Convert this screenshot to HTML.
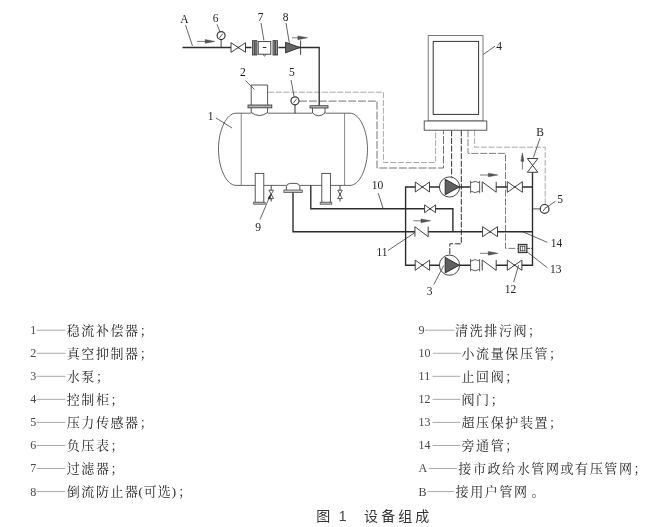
<!DOCTYPE html>
<html lang="zh"><head><meta charset="utf-8"><title>图1 设备组成</title><style>html,body{margin:0;padding:0;background:#fff;}body{width:671px;height:527px;position:relative;overflow:hidden;font-family:"Liberation Serif",serif;}</style></head><body>
<svg width="671" height="527" viewBox="0 0 671 527" font-family="Liberation Serif, serif" style="position:absolute;left:0;top:0;display:block;will-change:transform">
<path d="M268.00 92.20 L383.40 92.20 L383.40 162.50 L435.60 162.50 L435.60 130.40" stroke="#9a9a9a" stroke-width="0.85" fill="none" stroke-dasharray="6 1.7"/>
<path d="M299.20 101.10 L377.00 101.10 L377.00 168.00 L443.50 168.00 L443.50 130.40" stroke="#5a5a5a" stroke-width="0.85" fill="none" stroke-dasharray="8 1.8"/>
<path d="M451.60 130.40 L451.60 176.80" stroke="#333" stroke-width="1" fill="none" stroke-dasharray="6 1.6"/>
<path d="M461.30 130.40 L461.30 243.80 L449.80 243.80 L449.80 255.00" stroke="#333" stroke-width="1" fill="none" stroke-dasharray="6 1.6"/>
<path d="M468.00 130.40 L468.00 153.40 L505.50 153.40 L505.50 248.40 L518.00 248.40" stroke="#6a6a6a" stroke-width="0.85" fill="none" stroke-dasharray="7 1.8"/>
<path d="M474.60 130.40 L474.60 147.20 L545.20 147.20 L545.20 204.40" stroke="#9a9a9a" stroke-width="0.85" fill="none" stroke-dasharray="6 1.7"/>
<path d="M182.50 47.50 L319.20 47.50 L319.20 105.70" stroke="#2c2c2c" stroke-width="1.3" fill="none" stroke-linejoin="miter"/>
<text x="184.30" y="22.60" font-size="11.5" text-anchor="middle" font-weight="normal" fill="#222">A</text>
<line x1="185.50" y1="25.00" x2="192.50" y2="46.00" stroke="#333" stroke-width="0.75" fill="none"/>
<text x="215.50" y="21.60" font-size="11.5" text-anchor="middle" font-weight="normal" fill="#222">6</text>
<line x1="217.00" y1="24.50" x2="220.00" y2="32.00" stroke="#333" stroke-width="0.75" fill="none"/>
<text x="260.50" y="20.50" font-size="11.5" text-anchor="middle" font-weight="normal" fill="#222">7</text>
<line x1="261.00" y1="23.00" x2="264.00" y2="41.00" stroke="#333" stroke-width="0.75" fill="none"/>
<text x="285.50" y="20.50" font-size="11.5" text-anchor="middle" font-weight="normal" fill="#222">8</text>
<line x1="286.00" y1="23.00" x2="289.50" y2="44.00" stroke="#333" stroke-width="0.75" fill="none"/>
<line x1="197.20" y1="41.40" x2="206.20" y2="41.40" stroke="#444" stroke-width="0.7"/>
<path d="M205.20 39.55 L214.80 41.40 L205.20 43.25 Z" fill="#555" stroke="#333" stroke-width="0.4"/>
<line x1="292.00" y1="37.80" x2="298.90" y2="37.80" stroke="#444" stroke-width="0.7"/>
<path d="M297.90 35.95 L307.50 37.80 L297.90 39.65 Z" fill="#555" stroke="#333" stroke-width="0.4"/>
<line x1="221.10" y1="47.50" x2="221.10" y2="39.50" stroke="#333" stroke-width="0.9"/>
<circle cx="221.10" cy="35.60" r="4.00" stroke="#333" stroke-width="1.15" fill="#fff"/>
<line x1="219.50" y1="37.80" x2="222.90" y2="33.60" stroke="#444" stroke-width="0.9"/>
<path d="M231.00 42.70 L245.50 52.30 L245.50 42.70 L231.00 52.30 Z" stroke="#2e2e2e" stroke-width="0.9" fill="#fff" stroke-linejoin="miter"/>
<rect x="251.5" y="40.4" width="27" height="15" fill="#fff"/>
<rect x="252.40" y="40.60" width="1.90" height="14.40" stroke="#333" stroke-width="0.8" fill="#999"/>
<rect x="255.00" y="40.60" width="1.90" height="14.40" stroke="#333" stroke-width="0.8" fill="#999"/>
<rect x="273.00" y="40.60" width="1.90" height="14.40" stroke="#333" stroke-width="0.8" fill="#999"/>
<rect x="275.60" y="40.60" width="1.90" height="14.40" stroke="#333" stroke-width="0.8" fill="#999"/>
<rect x="258.20" y="41.60" width="12.60" height="12.60" stroke="#333" stroke-width="0.9" fill="#fff"/>
<line x1="262.80" y1="47.50" x2="266.40" y2="47.50" stroke="#333" stroke-width="1"/>
<path d="M263 54.2 Q264.5 57.9 266 54.2" stroke="#444" stroke-width="0.8" fill="none"/>
<path d="M285.6 42.3 L300 47.5 L285.6 52.8 Z" fill="#666" stroke="#2a2a2a" stroke-width="0.9"/>
<line x1="300.60" y1="40.40" x2="300.60" y2="54.80" stroke="#333" stroke-width="0.9"/>
<path d="M236 113.2 L350 113.2 C359.5 113.2 367.5 130 367.5 149.2 C367.5 168.4 359.5 185.4 350 185.4 L236 185.4 C226.5 185.4 218.5 168.4 218.5 149.2 C218.5 130 226.5 113.2 236 113.2 Z" stroke="#4a4a4a" stroke-width="0.85" fill="none"/>
<line x1="241.20" y1="113.20" x2="241.20" y2="185.40" stroke="#6a6a6a" stroke-width="0.8"/>
<line x1="344.60" y1="113.20" x2="344.60" y2="185.40" stroke="#6a6a6a" stroke-width="0.8"/>
<text x="210.50" y="119.50" font-size="11.5" text-anchor="middle" font-weight="normal" fill="#222">1</text>
<line x1="216.00" y1="118.00" x2="232.00" y2="128.00" stroke="#333" stroke-width="0.75" fill="none"/>
<rect x="250.6" y="84" width="17.6" height="31" fill="#fff"/>
<path d="M251.2 113.2 L251.2 85 L267.6 85 L267.6 113.2" stroke="#444" stroke-width="0.9" fill="none"/>
<path d="M251.2 112.5 Q259.4 118.5 267.6 112.5" stroke="#444" stroke-width="0.9" fill="none"/>
<rect x="248.00" y="105.00" width="23.80" height="2.80" stroke="#444" stroke-width="0.9" fill="#b0b0b0"/>
<text x="242.80" y="76.00" font-size="11.5" text-anchor="middle" font-weight="normal" fill="#111">2</text>
<line x1="245.50" y1="80.50" x2="254.50" y2="89.50" stroke="#333" stroke-width="0.75" fill="none"/>
<line x1="295.00" y1="113.20" x2="295.00" y2="105.00" stroke="#333" stroke-width="1"/>
<circle cx="295.00" cy="100.80" r="4.00" stroke="#333" stroke-width="1.15" fill="#fff"/>
<line x1="293.40" y1="103.00" x2="296.80" y2="98.80" stroke="#444" stroke-width="0.9"/>
<text x="291.80" y="75.80" font-size="11.5" text-anchor="middle" font-weight="normal" fill="#222">5</text>
<line x1="291.00" y1="80.00" x2="294.00" y2="96.00" stroke="#333" stroke-width="0.75" fill="none"/>
<rect x="312" y="107" width="13.5" height="8" fill="#fff"/>
<path d="M312.5 107.5 L312.5 113 Q318.8 118.5 325 113 L325 107.5" stroke="#444" stroke-width="0.9" fill="none"/>
<rect x="310.00" y="105.70" width="18.00" height="2.30" stroke="#444" stroke-width="0.9" fill="#bbb"/>
<rect x="255.20" y="173.4" width="8.60" height="29" fill="#fff" stroke="#444" stroke-width="0.9"/>
<rect x="253.60" y="202.20" width="11.60" height="2.00" stroke="#555" stroke-width="0.8" fill="#c4c4c4"/>
<rect x="321.80" y="173.4" width="8.60" height="29" fill="#fff" stroke="#444" stroke-width="0.9"/>
<rect x="320.20" y="202.20" width="11.60" height="2.00" stroke="#555" stroke-width="0.8" fill="#c4c4c4"/>
<line x1="271.20" y1="185.40" x2="271.20" y2="201.50" stroke="#333" stroke-width="0.9"/>
<path d="M268.90 190.20 L273.50 190.20 L268.90 198.60 L273.50 198.60 Z" stroke="#333" stroke-width="0.8" fill="#fff"/>
<line x1="340.00" y1="185.40" x2="340.00" y2="201.50" stroke="#333" stroke-width="0.9"/>
<path d="M337.70 190.20 L342.30 190.20 L337.70 198.60 L342.30 198.60 Z" stroke="#333" stroke-width="0.8" fill="#fff"/>
<rect x="286.4" y="182" width="13.6" height="8.5" fill="#fff"/>
<path d="M286.4 190 L286.4 186.4 Q286.8 183.6 290.2 183.4 L296 183.4 Q299.4 183.6 299.8 186.4 L299.8 190" stroke="#444" stroke-width="0.9" fill="none"/>
<rect x="283.90" y="190.00" width="18.40" height="2.50" stroke="#555" stroke-width="0.8" fill="#c4c4c4"/>
<text x="258.00" y="230.60" font-size="11.5" text-anchor="middle" font-weight="normal" fill="#222">9</text>
<line x1="260.00" y1="219.50" x2="270.20" y2="195.50" stroke="#333" stroke-width="0.75" fill="none"/>
<path d="M270.9 193.6 L267.6 198.4 L270.6 199.6 Z" fill="#333"/>
<path d="M293.00 192.60 L293.00 231.70 L532.50 231.70" stroke="#2c2c2c" stroke-width="1.38" fill="none" stroke-linejoin="miter"/>
<path d="M310.80 185.40 L310.80 208.80 L452.90 208.80 L452.90 231.70" stroke="#2c2c2c" stroke-width="1.38" fill="none" stroke-linejoin="miter"/>
<path d="M532.50 172.30 L532.50 265.20 L405.60 265.20 L405.60 187.00 L532.50 187.00" stroke="#2c2c2c" stroke-width="1.38" fill="none" stroke-linejoin="miter"/>
<path d="M415.30 182.00 L429.50 192.00 L429.50 182.00 L415.30 192.00 Z" stroke="#2e2e2e" stroke-width="0.9" fill="#fff" stroke-linejoin="miter"/>
<circle cx="449.50" cy="187.00" r="10.10" stroke="#333" stroke-width="0.9" fill="#fff"/>
<path d="M445.20 179.20 L459.20 187.00 L445.20 194.80 Z" fill="#606060" stroke="#222" stroke-width="0.9" stroke-linejoin="miter"/>
<rect x="470.60" y="180.80" width="11.20" height="12.40" fill="#fff" stroke="none"/>
<line x1="470.60" y1="180.80" x2="470.60" y2="193.20" stroke="#444" stroke-width="0.85" fill="none"/>
<line x1="479.60" y1="180.80" x2="479.60" y2="193.20" stroke="#444" stroke-width="0.85" fill="none"/>
<path d="M470.90 182.80 Q475.10 180.00 479.30 182.80" stroke="#444" stroke-width="0.85" fill="none"/>
<path d="M470.90 191.20 Q475.10 194.00 479.30 191.20" stroke="#444" stroke-width="0.85" fill="none"/>
<rect x="482.20" y="181.80" width="14.00" height="10.40" fill="#fff" stroke="none"/>
<path d="M482.20 192.20 L482.20 181.80 L496.20 192.20 L496.20 181.80" stroke="#2e2e2e" stroke-width="0.9" fill="none" stroke-linejoin="miter"/>
<path d="M507.30 181.70 L522.40 192.30 L522.40 181.70 L507.30 192.30 Z" stroke="#2e2e2e" stroke-width="0.9" fill="#fff" stroke-linejoin="miter"/>
<line x1="480.00" y1="175.00" x2="489.30" y2="175.00" stroke="#444" stroke-width="0.7"/>
<path d="M488.30 173.15 L497.90 175.00 L488.30 176.85 Z" fill="#555" stroke="#333" stroke-width="0.4"/>
<path d="M424.60 204.90 L435.60 212.70 L435.60 204.90 L424.60 212.70 Z" stroke="#2e2e2e" stroke-width="0.9" fill="#fff" stroke-linejoin="miter"/>
<rect x="414.90" y="226.70" width="13.30" height="10.00" fill="#fff" stroke="none"/>
<path d="M414.90 236.70 L414.90 226.70 L428.20 236.70 L428.20 226.70" stroke="#2e2e2e" stroke-width="0.9" fill="none" stroke-linejoin="miter"/>
<line x1="413.40" y1="220.80" x2="422.00" y2="220.80" stroke="#444" stroke-width="0.7"/>
<path d="M421.00 218.95 L430.60 220.80 L421.00 222.65 Z" fill="#555" stroke="#333" stroke-width="0.4"/>
<path d="M482.60 226.70 L497.50 236.70 L497.50 226.70 L482.60 236.70 Z" stroke="#2e2e2e" stroke-width="0.9" fill="#fff" stroke-linejoin="miter"/>
<path d="M415.20 260.10 L429.60 270.30 L429.60 260.10 L415.20 270.30 Z" stroke="#2e2e2e" stroke-width="0.9" fill="#fff" stroke-linejoin="miter"/>
<circle cx="449.50" cy="265.20" r="10.10" stroke="#333" stroke-width="0.9" fill="#fff"/>
<path d="M445.20 257.40 L459.20 265.20 L445.20 273.00 Z" fill="#606060" stroke="#222" stroke-width="0.9" stroke-linejoin="miter"/>
<rect x="470.60" y="259.00" width="11.20" height="12.40" fill="#fff" stroke="none"/>
<line x1="470.60" y1="259.00" x2="470.60" y2="271.40" stroke="#444" stroke-width="0.85" fill="none"/>
<line x1="479.60" y1="259.00" x2="479.60" y2="271.40" stroke="#444" stroke-width="0.85" fill="none"/>
<path d="M470.90 261.00 Q475.10 258.20 479.30 261.00" stroke="#444" stroke-width="0.85" fill="none"/>
<path d="M470.90 269.40 Q475.10 272.20 479.30 269.40" stroke="#444" stroke-width="0.85" fill="none"/>
<rect x="482.20" y="260.00" width="14.00" height="10.40" fill="#fff" stroke="none"/>
<path d="M482.20 270.40 L482.20 260.00 L496.20 270.40 L496.20 260.00" stroke="#2e2e2e" stroke-width="0.9" fill="none" stroke-linejoin="miter"/>
<path d="M507.30 260.10 L521.90 270.30 L521.90 260.10 L507.30 270.30 Z" stroke="#2e2e2e" stroke-width="0.9" fill="#fff" stroke-linejoin="miter"/>
<line x1="480.00" y1="253.30" x2="489.30" y2="253.30" stroke="#444" stroke-width="0.7"/>
<path d="M488.30 251.45 L497.90 253.30 L488.30 255.15 Z" fill="#555" stroke="#333" stroke-width="0.4"/>
<path d="M527.30 158.50 L537.90 158.50 L527.30 172.30 L537.90 172.30 Z" stroke="#2e2e2e" stroke-width="0.9" fill="#fff" stroke-linejoin="miter"/>
<line x1="522.40" y1="169.50" x2="522.40" y2="160.30" stroke="#444" stroke-width="0.7"/>
<path d="M520.90 161.30 L522.40 152.80 L523.90 161.30 Z" fill="#555" stroke="#333" stroke-width="0.4"/>
<text x="540.00" y="135.50" font-size="11.5" text-anchor="middle" font-weight="normal" fill="#222">B</text>
<line x1="540.00" y1="138.20" x2="533.40" y2="157.50" stroke="#333" stroke-width="0.75" fill="none"/>
<line x1="532.50" y1="208.90" x2="540.00" y2="208.90" stroke="#333" stroke-width="0.9"/>
<circle cx="544.60" cy="208.90" r="4.40" stroke="#333" stroke-width="1.15" fill="#fff"/>
<line x1="543.00" y1="211.10" x2="546.40" y2="206.90" stroke="#444" stroke-width="0.9"/>
<text x="560.00" y="203.20" font-size="11.5" text-anchor="middle" font-weight="normal" fill="#222">5</text>
<line x1="555.50" y1="201.20" x2="546.00" y2="207.80" stroke="#333" stroke-width="0.75" fill="none"/>
<line x1="527.00" y1="248.40" x2="532.50" y2="248.40" stroke="#333" stroke-width="0.9" stroke-dasharray="3 1"/>
<rect x="518.30" y="244.40" width="8.60" height="8.20" stroke="#333" stroke-width="1.1" fill="#ccc"/>
<rect x="520.40" y="246.20" width="4.40" height="4.60" stroke="#444" stroke-width="0.8" fill="#fff"/>
<line x1="522.60" y1="246.20" x2="522.60" y2="250.80" stroke="#555" stroke-width="0.7"/>
<text x="377.50" y="189.20" font-size="11.5" text-anchor="middle" font-weight="normal" fill="#222">10</text>
<line x1="378.20" y1="193.00" x2="383.00" y2="208.00" stroke="#333" stroke-width="0.75" fill="none"/>
<text x="382.00" y="256.00" font-size="11.5" text-anchor="middle" font-weight="normal" fill="#222">11</text>
<line x1="388.00" y1="250.50" x2="415.00" y2="232.50" stroke="#333" stroke-width="0.75" fill="none"/>
<text x="429.50" y="295.00" font-size="11.5" text-anchor="middle" font-weight="normal" fill="#222">3</text>
<line x1="433.80" y1="284.50" x2="443.80" y2="265.50" stroke="#333" stroke-width="0.75" fill="none"/>
<text x="510.50" y="292.80" font-size="11.5" text-anchor="middle" font-weight="normal" fill="#222">12</text>
<line x1="513.70" y1="282.20" x2="518.60" y2="265.00" stroke="#333" stroke-width="0.75" fill="none"/>
<text x="555.80" y="272.50" font-size="11.5" text-anchor="middle" font-weight="normal" fill="#222">13</text>
<line x1="547.20" y1="267.60" x2="526.00" y2="251.00" stroke="#333" stroke-width="0.75" fill="none"/>
<text x="556.60" y="247.40" font-size="11.5" text-anchor="middle" font-weight="normal" fill="#222">14</text>
<line x1="547.20" y1="242.30" x2="522.00" y2="231.40" stroke="#333" stroke-width="0.75" fill="none"/>
<rect x="428.20" y="35.60" width="54.80" height="85.40" stroke="#5a5a5a" stroke-width="0.8" fill="none"/>
<rect x="433.20" y="41.40" width="45.40" height="73.00" stroke="#333" stroke-width="1.0" fill="none"/>
<rect x="424.20" y="121.00" width="62.60" height="9.20" stroke="#444" stroke-width="0.9" fill="#fff"/>
<text x="499.20" y="50.20" font-size="11.5" text-anchor="middle" font-weight="normal" fill="#222">4</text>
<line x1="495.00" y1="46.20" x2="483.20" y2="54.50" stroke="#333" stroke-width="0.75" fill="none"/>
<text x="30.20" y="334.15" font-size="12" text-anchor="start" font-weight="normal" fill="#484848">1</text>
<line x1="36.60" y1="330.20" x2="65.40" y2="330.20" stroke="#8e8e8e" stroke-width="0.75"/>
<text x="66.70" y="334.95" font-size="13" letter-spacing="1.6" fill="#262626" font-family="'Liberation Serif', 'Noto Serif CJK SC', serif">稳流补偿器；</text>
<text x="30.20" y="357.20" font-size="12" text-anchor="start" font-weight="normal" fill="#484848">2</text>
<line x1="36.60" y1="353.25" x2="65.40" y2="353.25" stroke="#8e8e8e" stroke-width="0.75"/>
<text x="66.70" y="358.00" font-size="13" letter-spacing="1.6" fill="#262626" font-family="'Liberation Serif', 'Noto Serif CJK SC', serif">真空抑制器；</text>
<text x="30.20" y="380.25" font-size="12" text-anchor="start" font-weight="normal" fill="#484848">3</text>
<line x1="36.60" y1="376.30" x2="65.40" y2="376.30" stroke="#8e8e8e" stroke-width="0.75"/>
<text x="66.70" y="381.05" font-size="13" letter-spacing="1.6" fill="#262626" font-family="'Liberation Serif', 'Noto Serif CJK SC', serif">水泵；</text>
<text x="30.20" y="403.30" font-size="12" text-anchor="start" font-weight="normal" fill="#484848">4</text>
<line x1="36.60" y1="399.35" x2="65.40" y2="399.35" stroke="#8e8e8e" stroke-width="0.75"/>
<text x="66.70" y="404.10" font-size="13" letter-spacing="1.6" fill="#262626" font-family="'Liberation Serif', 'Noto Serif CJK SC', serif">控制柜；</text>
<text x="30.20" y="426.35" font-size="12" text-anchor="start" font-weight="normal" fill="#484848">5</text>
<line x1="36.60" y1="422.40" x2="65.40" y2="422.40" stroke="#8e8e8e" stroke-width="0.75"/>
<text x="66.70" y="427.15" font-size="13" letter-spacing="1.6" fill="#262626" font-family="'Liberation Serif', 'Noto Serif CJK SC', serif">压力传感器；</text>
<text x="30.20" y="449.40" font-size="12" text-anchor="start" font-weight="normal" fill="#484848">6</text>
<line x1="36.60" y1="445.45" x2="65.40" y2="445.45" stroke="#8e8e8e" stroke-width="0.75"/>
<text x="66.70" y="450.20" font-size="13" letter-spacing="1.6" fill="#262626" font-family="'Liberation Serif', 'Noto Serif CJK SC', serif">负压表；</text>
<text x="30.20" y="472.45" font-size="12" text-anchor="start" font-weight="normal" fill="#484848">7</text>
<line x1="36.60" y1="468.50" x2="65.40" y2="468.50" stroke="#8e8e8e" stroke-width="0.75"/>
<text x="66.70" y="473.25" font-size="13" letter-spacing="1.6" fill="#262626" font-family="'Liberation Serif', 'Noto Serif CJK SC', serif">过滤器；</text>
<text x="30.20" y="495.50" font-size="12" text-anchor="start" font-weight="normal" fill="#484848">8</text>
<line x1="36.60" y1="491.55" x2="65.40" y2="491.55" stroke="#8e8e8e" stroke-width="0.75"/>
<text x="66.70" y="496.30" font-size="13" letter-spacing="1.6" fill="#262626" font-family="'Liberation Serif', 'Noto Serif CJK SC', serif">倒流防止器</text>
<text x="138.40" y="496.30" font-size="13" letter-spacing="1" fill="#262626" font-family="'Liberation Serif', 'Noto Serif CJK SC', serif">(可选)</text>
<text x="178.30" y="496.30" font-size="13" fill="#262626" font-family="'Liberation Serif', 'Noto Serif CJK SC', serif">；</text>
<text x="418.60" y="334.15" font-size="12" text-anchor="start" font-weight="normal" fill="#484848">9</text>
<line x1="425.00" y1="330.20" x2="454.50" y2="330.20" stroke="#8e8e8e" stroke-width="0.75"/>
<text x="455.10" y="334.95" font-size="13" letter-spacing="1.6" fill="#262626" font-family="'Liberation Serif', 'Noto Serif CJK SC', serif">清洗排污阀；</text>
<text x="418.60" y="357.20" font-size="12" text-anchor="start" font-weight="normal" fill="#484848">10</text>
<line x1="433.00" y1="353.25" x2="461.00" y2="353.25" stroke="#8e8e8e" stroke-width="0.75"/>
<text x="461.50" y="358.00" font-size="13" letter-spacing="1.6" fill="#262626" font-family="'Liberation Serif', 'Noto Serif CJK SC', serif">小流量保压管；</text>
<text x="418.60" y="380.25" font-size="12" text-anchor="start" font-weight="normal" fill="#484848">11</text>
<line x1="432.50" y1="376.30" x2="460.30" y2="376.30" stroke="#8e8e8e" stroke-width="0.75"/>
<text x="461.50" y="381.05" font-size="13" letter-spacing="1.6" fill="#262626" font-family="'Liberation Serif', 'Noto Serif CJK SC', serif">止回阀；</text>
<text x="418.60" y="403.30" font-size="12" text-anchor="start" font-weight="normal" fill="#484848">12</text>
<line x1="432.50" y1="399.35" x2="460.30" y2="399.35" stroke="#8e8e8e" stroke-width="0.75"/>
<text x="461.50" y="404.10" font-size="13" letter-spacing="1.6" fill="#262626" font-family="'Liberation Serif', 'Noto Serif CJK SC', serif">阀门；</text>
<text x="418.60" y="426.35" font-size="12" text-anchor="start" font-weight="normal" fill="#484848">13</text>
<line x1="432.50" y1="422.40" x2="460.50" y2="422.40" stroke="#8e8e8e" stroke-width="0.75"/>
<text x="461.50" y="427.15" font-size="13" letter-spacing="1.6" fill="#262626" font-family="'Liberation Serif', 'Noto Serif CJK SC', serif">超压保护装置；</text>
<text x="418.60" y="449.40" font-size="12" text-anchor="start" font-weight="normal" fill="#484848">14</text>
<line x1="432.50" y1="445.45" x2="460.50" y2="445.45" stroke="#8e8e8e" stroke-width="0.75"/>
<text x="461.50" y="450.20" font-size="13" letter-spacing="1.6" fill="#262626" font-family="'Liberation Serif', 'Noto Serif CJK SC', serif">旁通管；</text>
<text x="418.60" y="472.45" font-size="12" text-anchor="start" font-weight="normal" fill="#484848">A</text>
<line x1="428.70" y1="468.50" x2="456.80" y2="468.50" stroke="#8e8e8e" stroke-width="0.75"/>
<text x="458.30" y="473.25" font-size="13" letter-spacing="1.6" fill="#262626" font-family="'Liberation Serif', 'Noto Serif CJK SC', serif">接市政给水管网或有压管网；</text>
<text x="418.60" y="495.50" font-size="12" text-anchor="start" font-weight="normal" fill="#484848">B</text>
<line x1="427.50" y1="491.55" x2="453.80" y2="491.55" stroke="#8e8e8e" stroke-width="0.75"/>
<text x="455.60" y="496.30" font-size="13" letter-spacing="1.6" fill="#262626" font-family="'Liberation Serif', 'Noto Serif CJK SC', serif">接用户管网</text>
<text x="531.60" y="496.30" font-size="13" fill="#262626" font-family="'Liberation Serif', 'Noto Serif CJK SC', serif">。</text>
<text x="316.22" y="521.20" font-size="14" fill="#333" font-family="'Liberation Sans', 'Noto Sans CJK SC', sans-serif">图</text>
<text x="342.6" y="521.00" font-size="14" text-anchor="middle" fill="#444" font-family="Liberation Sans, sans-serif">1</text>
<text x="364.10" y="521.20" font-size="14" letter-spacing="3.05" fill="#333" font-family="'Liberation Sans', 'Noto Sans CJK SC', sans-serif">设备组成</text>
</svg>
</body></html>
